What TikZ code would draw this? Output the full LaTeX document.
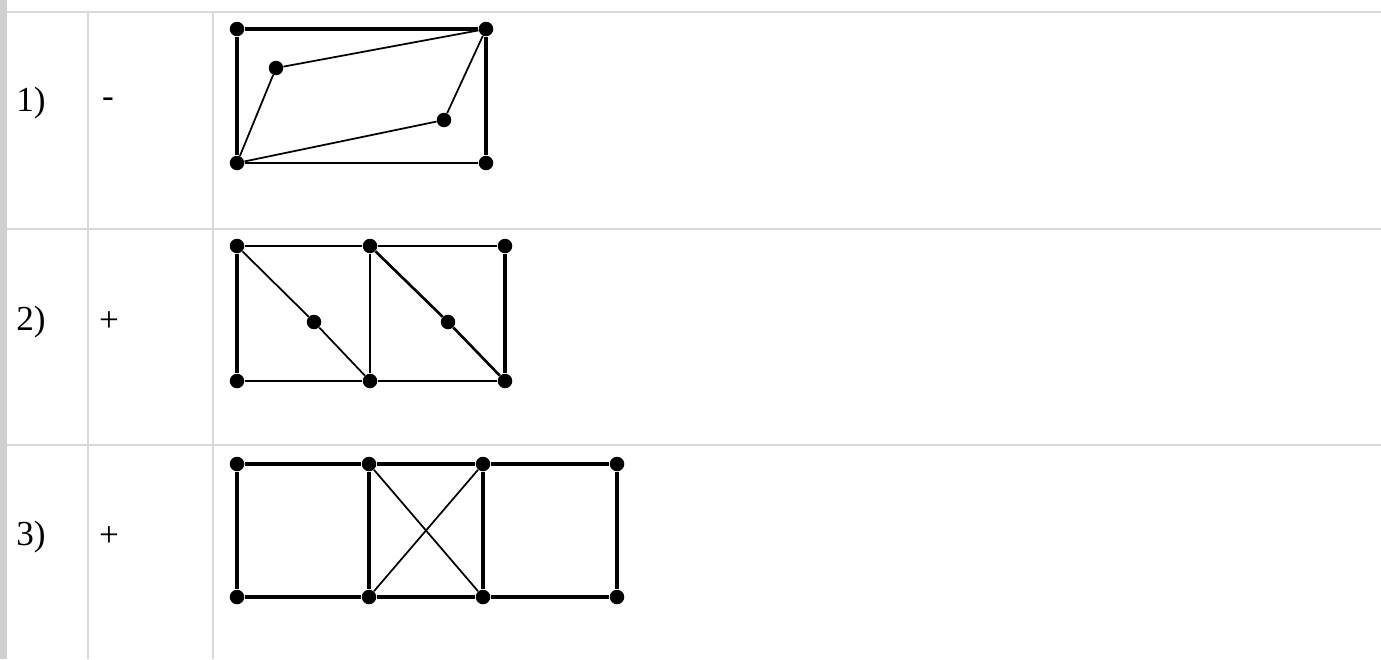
\documentclass[tikz,border=0pt]{standalone}
\usepackage{fontspec}
\setmainfont{Liberation Serif}
\usepackage{xcolor}
\definecolor{gridgray}{HTML}{D9D9D9}
\definecolor{bargray}{HTML}{D0D0D0}
\usetikzlibrary{positioning}

\begin{document}
\begin{tikzpicture}[x=0.02cm, y=-0.02cm,
    vertex/.style={circle, fill=black, inner sep=0pt, minimum size=0.29cm},
    edge/.style={draw=black, line width=2.1pt},
    midedge/.style={draw=black, line width=1.5pt},
    thinedge/.style={draw=black, line width=1pt},
    rule/.style={draw=gridgray, line width=1.1pt},
    label/.style={font=\fontsize{20}{24}\selectfont}]
  \useasboundingbox (0,0) rectangle (1381,659);
  % table frame
  \fill[bargray] (0,0) rectangle (7,659);
  \coordinate (h1l) at (7,12);   \coordinate (h1r) at (1381,12);
  \coordinate (h2l) at (7,229);  \coordinate (h2r) at (1381,229);
  \coordinate (h3l) at (7,445);  \coordinate (h3r) at (1381,445);
  \coordinate (v1t) at (88,12);  \coordinate (v1b) at (88,659);
  \coordinate (v2t) at (213,12); \coordinate (v2b) at (213,659);
  \draw[rule] (h1l) -- (h1r);
  \draw[rule] (h2l) -- (h2r);
  \draw[rule] (h3l) -- (h3r);
  \draw[rule] (v1t) -- (v1b);
  \draw[rule] (v2t) -- (v2b);
  % row labels
  \node[label] (n1) at (31,103) {1)};
  \node[label] (s1) at (108,103) {-};
  \node[label] (n2) at (31,322) {2)};
  \node[label] (s2) at (109,322) {+};
  \node[label] (n3) at (31,537) {3)};
  \node[label] (s3) at (109,537) {+};
  % graph 1
  \node[vertex] (a1) at (237,29) {};
  \node[vertex] (a2) at (486,29) {};
  \node[vertex] (a3) at (237,163) {};
  \node[vertex] (a4) at (486,163) {};
  \node[vertex] (p1) at (276,68) {};
  \node[vertex] (p2) at (444,120) {};
  \draw[edge] (a1) -- (a2);
  \draw[edge] (a1) -- (a3);
  \draw[edge] (a2) -- (a4);
  \draw[thinedge] (a3) -- (a4);
  \draw[thinedge] (p1) -- (a2);
  \draw[thinedge] (p1) -- (a3);
  \draw[thinedge] (a3) -- (p2);
  \draw[thinedge] (p2) -- (a2);
  % graph 2
  \node[vertex] (b1) at (237,246) {};
  \node[vertex] (b2) at (370,246) {};
  \node[vertex] (b3) at (505,246) {};
  \node[vertex] (b4) at (237,381) {};
  \node[vertex] (b5) at (370,381) {};
  \node[vertex] (b6) at (505,381) {};
  \node[vertex] (q1) at (314,322) {};
  \node[vertex] (q2) at (448,322) {};
  \draw[midedge] (b1) -- (b2) -- (b3);
  \draw[edge] (b1) -- (b4);
  \draw[midedge] (b2) -- (b5);
  \draw[edge] (b3) -- (b6);
  \draw[thinedge] (b4) -- (b5) -- (b6);
  \draw[thinedge] (b1) -- (q1) -- (b5);
  \draw[midedge] (b2) -- (q2) -- (b6);
  % graph 3
  \node[vertex] (c1) at (237,464) {};
  \node[vertex] (c2) at (369,464) {};
  \node[vertex] (c3) at (483,464) {};
  \node[vertex] (c4) at (617,464) {};
  \node[vertex] (c5) at (237,597) {};
  \node[vertex] (c6) at (369,597) {};
  \node[vertex] (c7) at (483,597) {};
  \node[vertex] (c8) at (617,597) {};
  \draw[edge] (c1) -- (c2) -- (c3) -- (c4);
  \draw[edge] (c5) -- (c6) -- (c7) -- (c8);
  \draw[edge] (c1) -- (c5);
  \draw[edge] (c2) -- (c6);
  \draw[edge] (c3) -- (c7);
  \draw[edge] (c4) -- (c8);
  \draw[thinedge] (c2) -- (c7);
  \draw[thinedge] (c3) -- (c6);
\end{tikzpicture}
\end{document}
